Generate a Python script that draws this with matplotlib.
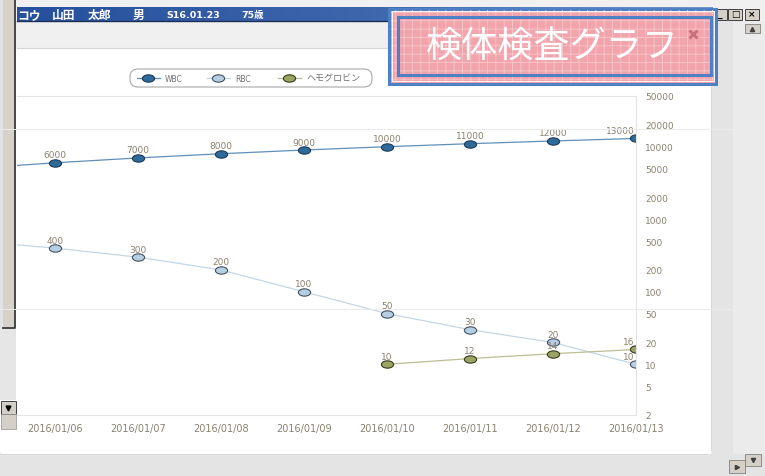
import numpy as np
import matplotlib
matplotlib.use('Agg')
import matplotlib.pyplot as plt
from matplotlib.path import Path
from matplotlib.markers import MarkerStyle
from matplotlib.patches import Rectangle, FancyBboxPatch
from matplotlib.lines import Line2D
from matplotlib.ticker import NullLocator
from matplotlib.colors import LinearSegmentedColormap

plt.rcParams['font.family'] = ['DejaVu Sans', 'Noto Sans CJK JP']
plt.rcParams['hatch.linewidth'] = 0.6

# data (first date is scrolled off to the left in the screenshot)
dates = ['2016/01/05', '2016/01/06', '2016/01/07', '2016/01/08', '2016/01/09',
         '2016/01/10', '2016/01/11', '2016/01/12', '2016/01/13']
wbc = [5000, 6000, 7000, 8000, 9000, 10000, 11000, 12000, 13000]
rbc = [500, 400, 300, 200, 100, 50, 30, 20, 10]
hgb = [np.nan, np.nan, np.nan, np.nan, np.nan, 10, 12, 14, 16]
series_names = ['WBC', 'RBC', 'ヘモグロビン']
yticks = [2, 5, 10, 20, 50, 100, 200, 500, 1000, 2000, 5000, 10000, 20000, 50000]

header_parts = [('コウ', 17), ('山田', 52), ('太郎', 88), ('男', 133),
                ('S16.01.23', 166), ('75歳', 241)]
title = '検体検査グラフ'

W, H = 765, 477
fig = plt.figure(figsize=(W / 100, H / 100), dpi=100)
fig.patch.set_facecolor('#f0f0f0')

circ = Path.unit_circle()
oval = MarkerStyle(Path(circ.vertices * [1.0, 0.6], circ.codes))
styles = [
    ('#5f8fb8', '#2f6b9a', '#1c3a55'),
    ('#c3d6e7', '#b6cee3', '#44525f'),
    ('#bdbd96', '#9ca464', '#363b1c'),
]

# ── window chrome drawn in pixel coordinates ──────────────────────────────
bg = fig.add_axes([0, 0, 1, 1], zorder=0)
bg.axis('off')

# white panel + grey surroundings
bg.add_patch(Rectangle((712, 22), 53, 455, fc='#e4e4e4', ec='none'))
bg.add_patch(Rectangle((733, 22), 32, 440, fc='#ebebeb', ec='none', hatch='....',
                       lw=0))
bg.add_patch(Rectangle((0, 455), 765, 22, fc='#e4e4e4', ec='none'))
bg.add_patch(FancyBboxPatch((0, 49), 712, 406, boxstyle='round,pad=0,rounding_size=4',
                            fc='white', ec='none'))
bg.plot([17, 712], [49, 49], color='#d6d6d6', lw=0.8)
bg.plot([711.5, 711.5], [49, 451], color='#d0d0d0', lw=0.6)
bg.plot([0, 708], [455, 455], color='#d8d8d8', lw=0.6)

# title bar with gradient
cmap = LinearSegmentedColormap.from_list('bar', ['#27509c', '#3d66ad', '#7396cb'])
bg.imshow(np.linspace(0, 1, 200).reshape(1, -1), extent=(17, 713, 22, 8),
          aspect='auto', cmap=cmap, zorder=1)
bg.plot([17, 713], [22, 22], color='#1e2f55', lw=1.0, zorder=2)
for txt, xp in header_parts:
    if txt[0].isascii():
        bg.text(xp, 15.5, txt, color='white', fontsize=6.8, fontweight='bold',
                va='center', ha='left', zorder=3)
    else:
        bg.text(xp, 15.5, txt, color='white', fontsize=8.5, fontweight='bold',
                va='center', ha='left', zorder=3, family=['Noto Sans CJK JP'])

# window buttons
for bx, glyph in [(713, '_'), (728, '□'), (745, '×')]:
    bg.add_patch(Rectangle((bx, 9.5), 14, 11, fc='#d4d0c8', ec='#404040', lw=0.7, zorder=3))
    bg.text(bx + 7, 15, glyph, fontsize=6.5, ha='center', va='center', color='black',
            zorder=4, fontweight='bold')
bg.add_patch(Rectangle((745, 25), 15, 9, fc='#d4d0c8', ec='#808080', lw=0.6, zorder=3))
bg.plot([752.5], [29.5], marker='^', ms=3, color='#404040', zorder=4)
bg.add_patch(Rectangle((745, 455), 16, 12, fc='#d4d0c8', ec='#808080', lw=0.6, zorder=3))
bg.plot([753], [461], marker='v', ms=3, color='#404040', zorder=4)
bg.add_patch(Rectangle((729, 461), 16, 13, fc='#d4d0c8', ec='#808080', lw=0.6, zorder=3))
bg.plot([737], [467.5], marker='>', ms=3, color='#404040', zorder=4)

# left scrollbar
bg.add_patch(Rectangle((0, 0), 3, 329, fc='#e2e2e2', ec='none', zorder=3))
bg.add_patch(Rectangle((3, 0), 12.5, 328, fc='#d6d2ca', ec='none', zorder=3))
bg.plot([15.5, 15.5, 3], [0, 328.5, 328.5], color='#3a3a3a', lw=1.3, zorder=4)
bg.add_patch(Rectangle((0, 329), 16, 72, fc='#e6e6e6', ec='none', hatch='....',
                       lw=0, zorder=3))
bg.add_patch(Rectangle((1, 402), 15, 13, fc='#d4d0c8', ec='#404040', lw=0.7, zorder=3))
bg.plot([8.5], [408.5], marker='v', ms=3.5, color='black', zorder=4)
bg.add_patch(Rectangle((1, 415), 15, 15, fc='#d4d0c8', ec='#909090', lw=0.5, zorder=3))

# pink title box
bg.add_patch(Rectangle((389.5, 9.5), 327, 75, fc='#f2a4ac', ec='#4d80c4', lw=2.2, zorder=5))
bg.add_patch(Rectangle((391, 11), 324, 72, fill=False, hatch='++', ec='#f7c6ca',
                       lw=0, zorder=5))
bg.add_patch(Rectangle((392, 12), 322, 70, fill=False, ec='white', lw=0.6, zorder=5))
bg.add_patch(Rectangle((398, 18), 313.5, 57.5, fill=False, ec='#4d80c4', lw=2.2, zorder=6))
bg.text(552, 47, title, color='white', fontsize=26, ha='center', va='center',
        family=['Noto Sans CJK JP'], zorder=7)
bg.plot([693], [35], marker='x', ms=6, mew=2.2, color='#c8707c', zorder=7)

# legend: rounded frame with three evenly spaced entries
bg.add_patch(FancyBboxPatch((130, 70), 242, 18, boxstyle='round,pad=0,rounding_size=8',
                            fc='white', ec='#a8a8a8', lw=0.8, zorder=2))
for k, ((lc, fc, ec), name) in enumerate(zip(styles, series_names)):
    x0 = 137 + 70.5 * k
    bg.plot([x0, x0 + 23], [79, 79], color=lc, lw=0.9, zorder=3)
    bg.plot([x0 + 11], [79], marker=oval, ms=8.8, mfc=fc, mec=ec, mew=0.8, zorder=4)
    bg.text(x0 + 28, 79, name, fontsize=6.5 if k == 2 else 5.5, color='#707070',
            ha='left', va='center', zorder=4)

bg.set_xlim(0, W)
bg.set_ylim(H, 0)

# ── chart ──────────────────────────────────────────────────────────────────
left, right, top, bottom = 17, 636, 97, 416
ax = fig.add_axes([left / W, 1 - bottom / H, (right - left) / W, (bottom - top) / H],
                  zorder=1)
ax.patch.set_alpha(0)

x = np.arange(len(dates))
for vals, (lc, fc, ec), name in zip([wbc, rbc, hgb], styles, series_names):
    ax.plot(x, vals, color=lc, lw=0.9, marker=oval, ms=8.8, mfc=fc, mec=ec,
            mew=0.8, label=name)
    for i, v in enumerate(vals):
        if np.isnan(v):
            continue
        last = i == len(vals) - 1
        ax.annotate(str(v), (i, v), xytext=(-1 if last else 0, 2.5),
                    textcoords='offset points', ha='right' if last else 'center',
                    va='bottom', fontsize=6.5, color='#8a8270', clip_on=True)

ax.set_yscale('log')
ax.yaxis.tick_right()
ax.set_yticks(yticks)
ax.set_yticklabels([str(t) for t in yticks])
ax.yaxis.set_minor_locator(NullLocator())
ax.set_xticks(x)
ax.set_xticklabels(dates)
ax.set_ylim(2, 50000)
ax.set_xlim(1 - (55 - left) / 83, len(dates) - 1)
ax.tick_params(axis='y', length=0, pad=6.5, labelsize=6.5, labelcolor='#8a8270')
ax.tick_params(axis='x', length=0, pad=5.5, labelsize=7, labelcolor='#8a8270')
for s in ['top', 'right', 'bottom']:
    ax.spines[s].set_color('#e4e4e4')
    ax.spines[s].set_linewidth(0.8)
ax.spines['left'].set_visible(False)

# faint screen lines crossing the whole screenshot
for yy in [130, 310]:
    fig.add_artist(Line2D([0, 1], [1 - yy / H] * 2, transform=fig.transFigure,
                          color='#ebebeb', lw=0.7, zorder=10))

fig.savefig('out.png', dpi=100)
